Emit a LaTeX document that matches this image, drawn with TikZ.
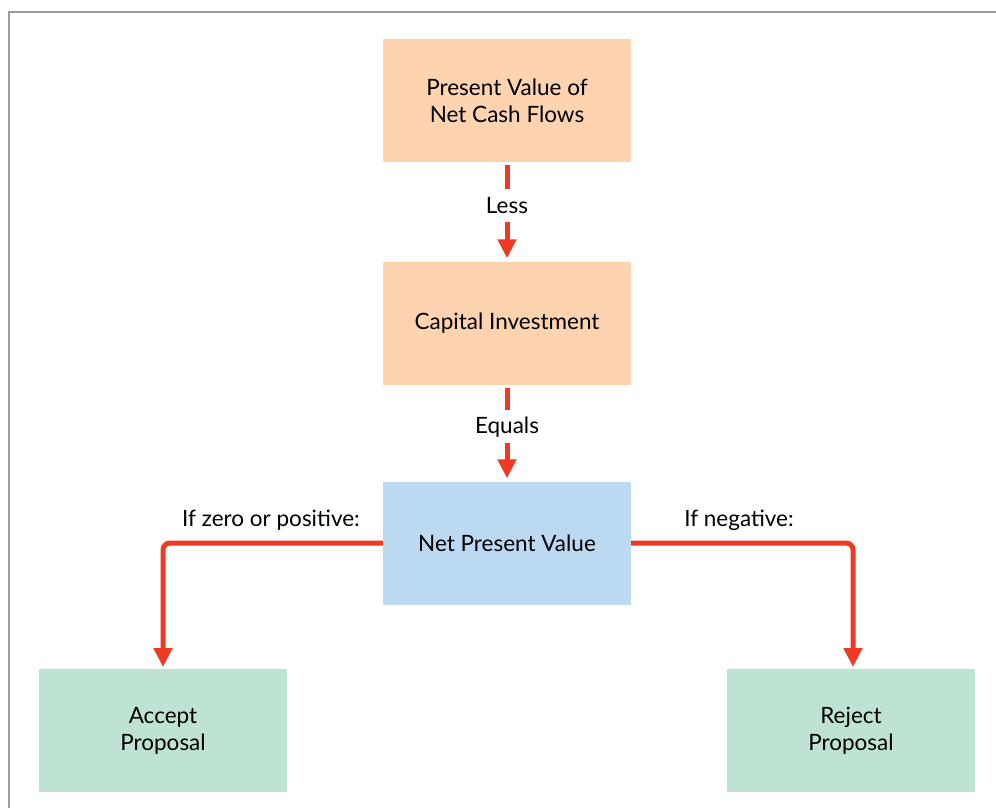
\documentclass[tikz,border=0pt]{standalone}
\usepackage{fontspec}
\setmainfont{Lato}
\usetikzlibrary{arrows.meta}
\definecolor{peach}{RGB}{253,211,176}
\definecolor{npvblue}{RGB}{187,218,242}
\definecolor{mint}{RGB}{190,227,211}
\definecolor{arrowred}{RGB}{238,58,36}
\definecolor{framegray}{RGB}{158,158,160}
\begin{document}
\begin{tikzpicture}[x=1pt,y=-1pt,
  box/.style={minimum width=248pt,minimum height=123pt,inner sep=0pt,align=center,
    font=\fontsize{22.5}{27}\selectfont},
  flow/.style={draw=arrowred,line width=5pt,-{Triangle[width=18pt,length=19pt]}},
  lbl/.style={fill=white,inner sep=0pt,minimum height=33pt,minimum width=40pt,
    font=\fontsize{22.5}{27}\selectfont},
  side/.style={inner sep=0pt,font=\fontsize{22.5}{27}\selectfont,anchor=base}]
\useasboundingbox (0,0) rectangle (996,808);
\draw[framegray,line width=2pt] (9,808) -- (9,12) -- (996,12);
\node[box,fill=peach] (pv) at (507,100.5) {Present Value of\\Net Cash Flows};
\node[box,fill=peach] (ci) at (507,323) {Capital Investment};
\node[box,fill=npvblue] (npv) at (507,543) {Net Present Value};
\node[box,fill=mint] (acc) at (163,730.5) {Accept\\Proposal};
\node[box,fill=mint] (rej) at (851,730.5) {Reject\\Proposal};
\draw[flow,shorten <=3pt,shorten >=3pt] (pv.south) -- node[lbl,pos=0.435] (less) {Less} (ci.north);
\draw[flow,shorten <=3pt,shorten >=3pt] (ci.south) -- node[lbl,pos=0.435] (eq) {Equals} (npv.north);
\coordinate (accin) at (163,669);
\coordinate (rejin) at (853,669);
\draw[flow,rounded corners=7pt,shorten >=2pt] (npv.west) -| (accin);
\draw[flow,rounded corners=7pt,shorten >=2pt] (npv.east) -| (rejin);
\node[side] (zp) at (271,526) {If zero or positive:};
\node[side] (neg) at (739,526) {If negative:};
\end{tikzpicture}
\end{document}
